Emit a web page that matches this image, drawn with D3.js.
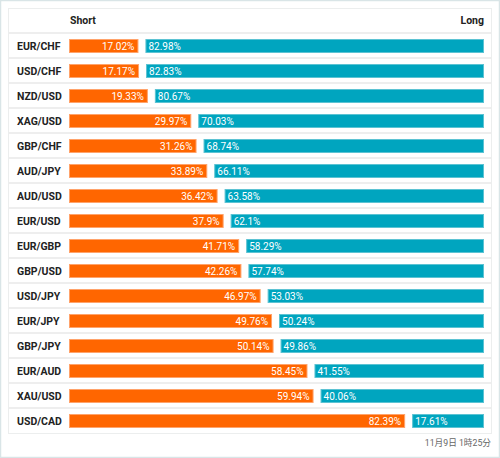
<!DOCTYPE html>
<html><head><meta charset="utf-8">
<script src="https://cdn.jsdelivr.net/npm/d3@7"></script>
<style>
html,body{margin:0;padding:0;background:#fff;}
svg{display:block;font-family:Roboto,"Noto Sans CJK JP",sans-serif;}
</style></head>
<body><svg id="c" width="500" height="458"></svg>
<script>
const pairs = ["EUR/CHF","USD/CHF","NZD/USD","XAG/USD","GBP/CHF","AUD/JPY","AUD/USD","EUR/USD","EUR/GBP","GBP/USD","USD/JPY","EUR/JPY","GBP/JPY","EUR/AUD","XAU/USD","USD/CAD"];
const shortVals = [17.02,17.17,19.33,29.97,31.26,33.89,36.42,37.9,41.71,42.26,46.97,49.76,50.14,58.45,59.94,82.39];
const longVals  = [82.98,82.83,80.67,70.03,68.74,66.11,63.58,62.1,58.29,57.74,53.03,50.24,49.86,41.55,40.06,17.61];
const headers = ["Short","Long"];
const timestamp = "11月9日 1時25分";

const svg = d3.select("#c");
const W = 500, H = 458;
const barLeft = 69, gap = 7, barTotal = 408;
const rowTop = 33, rowH = 25;

svg.append("rect").attr("x",0.5).attr("y",0.5).attr("width",W-1).attr("height",H-1)
  .attr("fill","#fff").attr("stroke","#d9e5e7").attr("stroke-width",1.5);
svg.append("rect").attr("x",8.5).attr("y",8.5).attr("width",483).attr("height",425)
  .attr("fill","#fff").attr("stroke","#eceeee").attr("stroke-width",1);

const x = d3.scaleLinear().domain([0,100]).range([0,barTotal]);
const y = d3.scaleBand().domain(pairs).range([rowTop, rowTop + rowH*pairs.length]);

svg.append("g").selectAll("line").data(pairs).join("line")
  .attr("x1",9).attr("x2",491)
  .attr("y1",d=>y(d)).attr("y2",d=>y(d))
  .attr("stroke","#eeeeee").attr("stroke-width",2);

svg.append("text").attr("x",barLeft+1).attr("y",24).attr("font-size",10.5).attr("font-weight","bold")
  .attr("fill","#222").text(headers[0]);
svg.append("text").attr("x",barLeft+barTotal+gap).attr("y",24).attr("text-anchor","end").attr("font-size",10.5)
  .attr("font-weight","bold").attr("fill","#222").text(headers[1]);

const rows = svg.append("g").selectAll("g").data(pairs).join("g")
  .attr("transform",d=>`translate(0,${y(d)})`);

rows.append("text").attr("x",17).attr("y",rowH/2+4.5).attr("font-size",10.5).attr("font-weight","bold")
  .attr("fill","#222").text(d=>d);

const by = 6, bh = 14;
rows.append("rect").attr("x",barLeft+0.5).attr("y",by+0.5)
  .attr("width",(d,i)=>x(shortVals[i])-1).attr("height",bh-1)
  .attr("fill","#ff6600").attr("stroke","#ffa36b").attr("stroke-width",1);
rows.append("rect").attr("x",(d,i)=>barLeft+x(shortVals[i])+gap+0.5).attr("y",by+0.5)
  .attr("width",(d,i)=>x(longVals[i])-1).attr("height",bh-1)
  .attr("fill","#00a5bf").attr("stroke","#5cc3d3").attr("stroke-width",1);

rows.append("text").attr("x",(d,i)=>barLeft+x(shortVals[i])-4).attr("y",by+bh/2+3.5)
  .attr("text-anchor","end").attr("font-size",10).attr("fill","#fff")
  .text((d,i)=>shortVals[i]+"%");
rows.append("text").attr("x",(d,i)=>barLeft+x(shortVals[i])+gap+3).attr("y",by+bh/2+3.5)
  .attr("font-size",10).attr("fill","#fff")
  .text((d,i)=>longVals[i]+"%");

svg.append("text").attr("x",491).attr("y",446).attr("text-anchor","end").attr("font-size",8.7)
  .attr("fill","#666").text(timestamp);
</script></body></html>
